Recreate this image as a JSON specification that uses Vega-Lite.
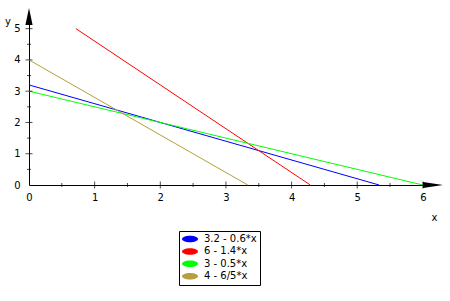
{
  "$schema": "https://vega.github.io/schema/vega-lite/v6.json",
  "width": 407,
  "height": 172,
  "autosize": {"type": "none"},
  "padding": {"left": 29, "top": 13, "right": 14, "bottom": 116},
  "background": "white",
  "config": {"view": {"stroke": null}, "font": "DejaVu Sans", "axis": {"labelOverlap": false, "labelSeparation": 0, "labelBound": false, "labelFlush": false}},
  "datasets": {
    "lines": [
      {"series": "3.2 - 0.6*x", "x": 0, "y": 3.2},
      {"series": "3.2 - 0.6*x", "x": 5.3333, "y": 0},
      {"series": "6 - 1.4*x", "x": 0.7143, "y": 5},
      {"series": "6 - 1.4*x", "x": 4.2857, "y": 0},
      {"series": "3 - 0.5*x", "x": 0, "y": 3},
      {"series": "3 - 0.5*x", "x": 6, "y": 0},
      {"series": "4 - 6/5*x", "x": 0, "y": 4},
      {"series": "4 - 6/5*x", "x": 3.3333, "y": 0}
    ],
    "xticks": [
      {"x": 0.5, "y": 0, "major": false}, {"x": 1, "y": 0, "major": true},
      {"x": 1.5, "y": 0, "major": false}, {"x": 2, "y": 0, "major": true},
      {"x": 2.5, "y": 0, "major": false}, {"x": 3, "y": 0, "major": true},
      {"x": 3.5, "y": 0, "major": false}, {"x": 4, "y": 0, "major": true},
      {"x": 4.5, "y": 0, "major": false}, {"x": 5, "y": 0, "major": true},
      {"x": 5.5, "y": 0, "major": false}, {"x": 6, "y": 0, "major": true}
    ],
    "yticks": [
      {"x": 0, "y": 0.5, "major": false}, {"x": 0, "y": 1, "major": true},
      {"x": 0, "y": 1.5, "major": false}, {"x": 0, "y": 2, "major": true},
      {"x": 0, "y": 2.5, "major": false}, {"x": 0, "y": 3, "major": true},
      {"x": 0, "y": 3.5, "major": false}, {"x": 0, "y": 4, "major": true},
      {"x": 0, "y": 4.5, "major": false}, {"x": 0, "y": 5, "major": true}
    ],
    "xarrow": [{"x": 6.154, "y": 0}],
    "yarrow": [{"x": 0, "y": 5.385}]
  },
  "encoding": {
    "x": {"field": "x", "type": "quantitative",
      "scale": {"domain": [0, 6.2], "nice": false, "zero": false},
      "axis": {"values": [0, 1, 2, 3, 4, 5, 6], "format": "d", "labelOverlap": false, "grid": false, "ticks": false, "tickSize": 0,
        "domainColor": "black", "domainWidth": 1, "labelFontSize": 10, "labelColor": "black",
        "labelPadding": 7, "labelFont": "DejaVu Sans",
        "title": "x", "titleFontWeight": "normal", "titleFontSize": 10, "titleColor": "black",
        "titleX": 405, "titleY": 35, "titleBaseline": "alphabetic", "titleAlign": "center", "titleFont": "DejaVu Sans"}},
    "y": {"field": "y", "type": "quantitative",
      "scale": {"domain": [0, 5.5], "nice": false, "zero": false},
      "axis": {"values": [0, 1, 2, 3, 4, 5], "format": "d", "labelOverlap": false, "grid": false, "ticks": false, "tickSize": 0,
        "domainColor": "black", "domainWidth": 1, "labelFontSize": 10, "labelColor": "black",
        "labelPadding": 9, "labelFont": "DejaVu Sans",
        "title": "y", "titleFontWeight": "normal", "titleFontSize": 10, "titleColor": "black", "titleAngle": 0,
        "titleX": -21.5, "titleY": 11, "titleBaseline": "alphabetic", "titleAlign": "center", "titleFont": "DejaVu Sans"}}
  },
  "layer": [
    {
      "data": {"name": "lines"},
      "mark": {"type": "line", "strokeWidth": 1, "clip": false},
      "encoding": {
        "color": {"field": "series", "type": "nominal",
          "scale": {"domain": ["3.2 - 0.6*x", "6 - 1.4*x", "3 - 0.5*x", "4 - 6/5*x"],
                    "range": ["#0000ff", "#ff0000", "#00ff00", "#b4a03c"]},
          "legend": {"orient": "none", "legendX": 150, "legendY": 218, "title": null,
            "strokeColor": "black", "fillColor": "white", "padding": 3,
            "symbolType": "M-1.6,0A1.6,0.65,0,1,1,1.6,0A1.6,0.65,0,1,1,-1.6,0Z", "symbolSize": 100,
            "symbolOffset": 3,
            "labelFontSize": 10, "labelColor": "black", "labelFont": "DejaVu Sans", "labelOffset": 9,
            "rowPadding": 2.4,
            "encode": {"symbols": {"update": {"fill": {"scale": "color", "field": "value"}, "strokeWidth": {"value": 0}}}}}}
      }
    },
    {
      "data": {"name": "xticks"},
      "transform": [{"filter": "datum.major"}],
      "mark": {"type": "tick", "orient": "vertical", "size": 7, "thickness": 1, "color": "black"}
    },
    {
      "data": {"name": "xticks"},
      "transform": [{"filter": "!datum.major"}],
      "mark": {"type": "tick", "orient": "vertical", "size": 4, "thickness": 1, "color": "black"}
    },
    {
      "data": {"name": "yticks"},
      "transform": [{"filter": "datum.major"}],
      "mark": {"type": "tick", "orient": "horizontal", "size": 7, "thickness": 1, "color": "black"}
    },
    {
      "data": {"name": "yticks"},
      "transform": [{"filter": "!datum.major"}],
      "mark": {"type": "tick", "orient": "horizontal", "size": 4, "thickness": 1, "color": "black"}
    },
    {
      "data": {"name": "xarrow"},
      "mark": {"type": "point", "shape": "M-1,-0.3L1,0L-1,0.3Z", "size": 400, "filled": true, "color": "black", "opacity": 1, "strokeWidth": 0}
    },
    {
      "data": {"name": "yarrow"},
      "mark": {"type": "point", "shape": "M-0.42,1L0,-1L0.42,1Z", "size": 289, "filled": true, "color": "black", "opacity": 1, "strokeWidth": 0}
    }
  ]
}
